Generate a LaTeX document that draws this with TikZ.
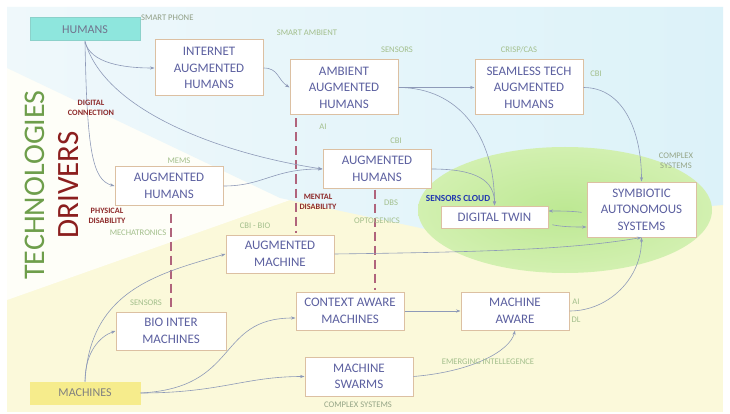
\documentclass[tikz,border=0pt]{standalone}
\usepackage{fontspec}
\setmainfont{Carlito}
\usetikzlibrary{arrows.meta}
\definecolor{boxline}{HTML}{DCC0A2}
\definecolor{boxtext}{HTML}{5C60A0}
\definecolor{connc}{HTML}{8E9AB8}
\definecolor{labg}{HTML}{A3BF8C}
\definecolor{labr}{HTML}{8E2B2B}
\definecolor{dashc}{HTML}{B0647C}
\definecolor{techg}{HTML}{6E9E4B}
\definecolor{drivr}{HTML}{8B1E1E}
\definecolor{bgyel}{HTML}{FBF9DA}
\definecolor{bgblueL}{HTML}{EFF8FB}
\definecolor{bgblueR}{HTML}{DCF2F9}
\definecolor{cyanbox}{HTML}{8EE6DD}
\definecolor{yelbox}{HTML}{F6EC8C}
\definecolor{cloudb}{HTML}{2238B0}
\definecolor{ellin}{HTML}{BDE893}
\definecolor{ellout}{HTML}{D2F0B0}
\tikzset{
  bx/.style 2 args={draw=boxline, line width=1pt, fill=white, minimum width=#1pt, minimum height=#2pt,
    inner sep=0pt, align=center, font=\fontsize{13}{16.5}\selectfont, text=boxtext},
  conn/.style={draw=connc, line width=0.6pt, -{Stealth[length=4.5pt,width=3.2pt]}},
  lg/.style={text=labg, font=\fontsize{8.6}{10}\selectfont, inner sep=0pt, align=center},
  lr/.style={text=labr, font=\bfseries\fontsize{8.2}{9.8}\selectfont, inner sep=0pt, align=center},
  dsh/.style={draw=dashc, line width=1.8pt, dash pattern=on 9pt off 5pt}
}
\begin{document}
\begin{tikzpicture}[x=1pt,y=-1pt]
\useasboundingbox (0,0) rectangle (730,414);
% background
\fill[white] (0,0) rectangle (730,414);
\fill[bgyel] (7,7) rectangle (723,412);
\fill[white!80!bgyel] (7,60) -- (290,200) -- (7,300) -- cycle;
\shade[left color=bgblueL, right color=bgblueR] (7,7) -- (723,7) -- (723,205) -- (430,230) -- (280,198) -- (7,68) -- cycle;
\shade[inner color=ellin, outer color=ellout] (565,210) ellipse [x radius=147pt, y radius=63pt];
% side titles
\node[rotate=90, text=techg, font=\fontsize{30}{30}\selectfont, inner sep=0pt] (tech) at (35,185) {TECHNOLOGIES};
\node[rotate=90, text=drivr, font=\fontsize{31}{31}\selectfont, inner sep=0pt] (drv) at (69,185) {DRIVERS};
% boxes
\node[bx={110}{23}, fill=cyanbox, draw=cyanbox!80!gray, text=gray!60!boxtext, font=\fontsize{12}{14}\selectfont] (humans) at (85,29.5) {HUMANS};
\node[bx={110}{22}, fill=yelbox, draw=yelbox, text=gray, font=\fontsize{12}{14}\selectfont] (machines) at (85,393) {MACHINES};
\node[bx={108}{56}] (inet) at (209,68) {INTERNET\\AUGMENTED\\HUMANS};
\node[bx={108}{55}] (ambient) at (344,87.5) {AMBIENT\\AUGMENTED\\HUMANS};
\node[bx={108}{55}] (seamless) at (529,87.5) {SEAMLESS TECH\\AUGMENTED\\HUMANS};
\node[bx={108}{38}] (augh2) at (377,169) {AUGMENTED\\HUMANS};
\node[bx={108}{38}] (augh1) at (169,186) {AUGMENTED\\HUMANS};
\node[bx={109}{55}] (symb) at (641.5,209.5) {SYMBIOTIC\\AUTONOMOUS\\SYSTEMS};
\node[bx={107}{22}] (dtwin) at (494.5,217) {DIGITAL TWIN};
\node[bx={108}{38}] (augm) at (280,254) {AUGMENTED\\MACHINE};
\node[bx={110}{38}] (bio) at (171,331) {BIO INTER\\MACHINES};
\node[bx={108}{38}] (ctx) at (350,311) {CONTEXT AWARE\\MACHINES};
\node[bx={108}{38}] (maware) at (515,311) {MACHINE\\AWARE};
\node[bx={108}{39}] (swarms) at (359,376.5) {MACHINE\\SWARMS};
% dashed
\draw[dsh, shorten <=3pt, shorten >=2pt] ([xshift=-48pt]ambient.south) -- ([xshift=16pt]augm.north);
\draw[dsh, shorten <=8pt, shorten >=2pt] ([xshift=2pt]augh1.south) -- (bio.north);
\draw[dsh, shorten <=1pt, shorten >=2pt] ([xshift=-2pt]augh2.south) -- ([xshift=25pt]ctx.north);
% connectors
\draw[conn] (humans.south) .. controls +(5,22) and +(-30,0) .. (inet.west);
\draw[conn] (humans.south) .. controls +(2,110) and +(-22,-6) .. (augh1.west);
\draw[conn] (humans.south) .. controls +(20,70) and +(-100,-15) .. (augh2.west);
\draw[conn] (inet.east) .. controls +(15,0) and +(-12,-8) .. (ambient.west);
\draw[conn] (ambient.east) -- (seamless.west);
\draw[conn] (ambient.east) .. controls +(60,0) and +(0,-70) .. (dtwin.north);
\draw[conn] (seamless.east) .. controls +(40,0) and +(0,-50) .. (symb.north);
\draw[conn] (augh1.east) .. controls +(40,0) and +(-50,0) .. (augh2.west);
\draw[conn] (augh2.east) .. controls +(45,0) and +(0,-25) .. (dtwin.north);
\draw[conn, shorten <=5pt] ([yshift=-3.5pt]symb.west) .. controls +(-15,-2) and +(12,0) .. ([yshift=6pt]dtwin.east);
\draw[conn, shorten <=4pt] ([yshift=-7pt]dtwin.east) .. controls +(15,3) and +(-12,0) .. ([yshift=-17.5pt]symb.west);
\draw[conn] (augm.east) .. controls +(150,-2) and +(-70,12) .. (symb.south);
\draw[conn] (maware.east) .. controls +(40,0) and +(0,40) .. (symb.south);
\draw[conn] (ctx.east) -- (maware.west);
\draw[conn] (swarms.east) .. controls +(60,-5) and +(-5,20) .. (maware.south);
\draw[conn] (machines.east) .. controls +(80,0) and +(-60,0) .. (swarms.west);
\draw[conn] (machines.east) .. controls +(100,-5) and +(-80,0) .. ([yshift=-7pt]ctx.west);
\draw[conn] (machines.north) .. controls +(0,-30) and +(-15,5) .. (bio.west);
\draw[conn] (machines.north) .. controls +(5,-90) and +(-70,20) .. (augm.west);
% labels
\node[lg, text=gray!50!labg, anchor=west] (lsp) at (141,18) {SMART PHONE};
\node[lg] (lsa) at (307,33) {SMART AMBIENT};
\node[lg] (lse) at (397,50) {SENSORS};
\node[lg] (lcr) at (519,50) {CRISP/CAS};
\node[lg] (lcbi1) at (596,74) {CBI};
\node[lg] (lai1) at (323,127) {AI};
\node[lg] (lcbi2) at (396,141) {CBI};
\node[lg] (lmems) at (179,161) {MEMS};
\node[lg, text=gray!40!labg] (lcs1) at (676,160.5) {COMPLEX\\SYSTEMS};
\node[text=cloudb, font=\bfseries\fontsize{9.3}{11}\selectfont, inner sep=0pt] (lcloud) at (458,198) {SENSORS CLOUD};
\node[lg] (ldbs) at (391,203) {DBS};
\node[lg] (lopt) at (377,221) {OPTOGENICS};
\node[lr] (lmd) at (318,201.5) {MENTAL\\DISABILITY};
\node[lr] (lpd) at (107,216) {PHYSICAL\\DISABILITY};
\node[lg] (lmech) at (138,233) {MECHATRONICS};
\node[lg] (lcbio) at (255,226) {CBI - BIO};
\node[lr] (ldc) at (91,107.5) {DIGITAL\\CONNECTION};
\node[lg] (lse2) at (146,303) {SENSORS};
\node[lg] (lai2) at (576,302) {AI};
\node[lg] (ldl) at (576,320) {DL};
\node[lg] (lem) at (488,362) {EMERGING INTELLEGENCE};
\node[lg, text=gray!40!labg] (lcs2) at (358,405) {COMPLEX SYSTEMS};
\end{tikzpicture}
\end{document}
